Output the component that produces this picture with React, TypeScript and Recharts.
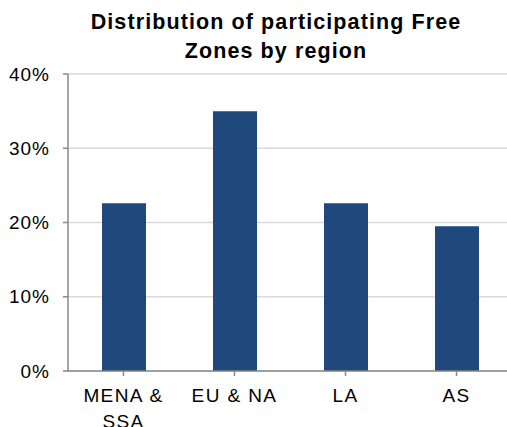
import { BarChart, Bar, XAxis, YAxis, CartesianGrid, Text } from 'recharts'

const regions = ['MENA & SSA', 'EU & NA', 'LA', 'AS']
const shares = [22.6, 35.0, 22.6, 19.5]
const yTicks = [0, 10, 20, 30, 40]

const data = regions.map((region, i) => ({ region, share: shares[i] }))

const FONT = '"Liberation Sans", Arial, sans-serif'

function RegionTick({ x, y, payload }: any) {
  return (
    <Text
      x={x}
      y={y}
      width={90}
      textAnchor="middle"
      verticalAnchor="start"
      lineHeight={26}
      fontSize={19}
      letterSpacing={1.4}
      fontFamily={FONT}
      fill="#000"
    >
      {payload.value}
    </Text>
  )
}

export default function App() {
  return (
    <div
      style={{
        position: 'absolute',
        left: 0,
        top: 0,
        width: 507,
        height: 427,
        overflow: 'hidden',
        background: '#fff',
      }}
    >
      <div
        style={{
          position: 'absolute',
          left: 76,
          top: 8,
          width: 400,
          textAlign: 'center',
          fontFamily: FONT,
          fontWeight: 'bold',
          fontSize: 21.5,
          letterSpacing: 1.1,
          lineHeight: '29px',
          color: '#000',
        }}
      >
        Distribution of participating Free
        <br />
        Zones by region
      </div>
      <BarChart
        width={512}
        height={427}
        data={data}
        margin={{ top: 74, right: 0, bottom: 0, left: 0 }}
      >
        <CartesianGrid vertical={false} stroke="#d9d9d9" strokeWidth={1.5} />
        <XAxis
          dataKey="region"
          interval={0}
          tick={<RegionTick />}
          tickSize={5}
          tickMargin={13}
          stroke="#898989"
          strokeWidth={1.5}
          height={56}
        />
        <YAxis
          domain={[0, 40]}
          ticks={yTicks}
          interval={0}
          width={68}
          tickSize={5}
          tickMargin={13}
          stroke="#898989"
          strokeWidth={1.5}
          tickFormatter={(v: number) => `${v}%`}
          tick={{ fontSize: 19, letterSpacing: 1, fill: '#000', fontFamily: FONT }}
        />
        <Bar dataKey="share" fill="#1f497d" barSize={44} isAnimationActive={false} />
      </BarChart>
    </div>
  )
}
